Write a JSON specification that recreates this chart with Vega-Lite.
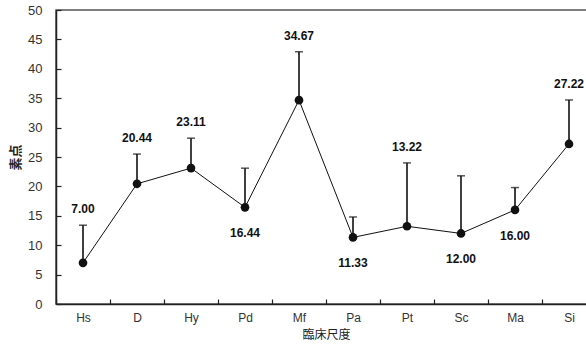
{
  "$schema": "https://vega.github.io/schema/vega-lite/v6.json",
  "autosize": {"type": "none"},
  "padding": {"left": 56, "top": 10, "right": 0, "bottom": 50},
  "width": 540,
  "height": 294,
  "config": {
    "font": "Liberation Sans",
    "view": {"stroke": "#555", "strokeWidth": 1.5},
    "axis": {"domainColor": "#222", "domainWidth": 1.5, "tickColor": "#222", "tickWidth": 1.2, "labelColor": "#333", "labelFontSize": 12, "labelFont": "Liberation Sans", "grid": false}
  },
  "data": {
    "values": [
      {"scale": "Hs", "mean": 7.00, "upper": 13.4, "pos": "above"},
      {"scale": "D", "mean": 20.44, "upper": 25.5, "pos": "above"},
      {"scale": "Hy", "mean": 23.11, "upper": 28.2, "pos": "above"},
      {"scale": "Pd", "mean": 16.44, "upper": 23.1, "pos": "below"},
      {"scale": "Mf", "mean": 34.67, "upper": 42.9, "pos": "above"},
      {"scale": "Pa", "mean": 11.33, "upper": 14.8, "pos": "below"},
      {"scale": "Pt", "mean": 13.22, "upper": 24.0, "pos": "above"},
      {"scale": "Sc", "mean": 12.00, "upper": 21.8, "pos": "below"},
      {"scale": "Ma", "mean": 16.00, "upper": 19.8, "pos": "below"},
      {"scale": "Si", "mean": 27.22, "upper": 34.7, "pos": "above"}
    ]
  },
  "encoding": {
    "x": {
      "field": "scale", "type": "nominal", "sort": null,
      "scale": {"paddingInner": 0, "paddingOuter": 0},
      "axis": {"title": "臨床尺度", "titleFont": "Noto Sans CJK JP", "titleFontSize": 12, "titleFontWeight": "normal", "titleColor": "#222", "titlePadding": 6, "labelAngle": 0, "tickBand": "extent", "tickSize": -5, "labelPadding": 13}
    },
    "y": {
      "field": "mean", "type": "quantitative",
      "scale": {"domain": [0, 50], "nice": false},
      "axis": {"title": "素点", "titleFont": "Noto Sans CJK JP", "titleFontSize": 13, "titleFontWeight": "bold", "titleColor": "#222", "titlePadding": 5, "values": [0,5,10,15,20,25,30,35,40,45,50], "labelOverlap": false, "labelFontSize": 13, "tickSize": -5, "labelPadding": 19}
    }
  },
  "layer": [
    {
      "mark": {"type": "line", "color": "#111", "strokeWidth": 1}
    },
    {
      "mark": {"type": "rule", "color": "#111", "strokeWidth": 1.6},
      "encoding": {"y2": {"field": "upper"}}
    },
    {
      "mark": {"type": "tick", "color": "#111", "size": 8, "thickness": 1.5},
      "encoding": {"y": {"field": "upper", "type": "quantitative", "scale": {"domain": [0, 50], "nice": false}, "axis": {"title": "素点", "titleFont": "Noto Sans CJK JP", "titleFontSize": 13, "titleFontWeight": "bold", "titleColor": "#222", "titlePadding": 5, "values": [0,5,10,15,20,25,30,35,40,45,50], "labelOverlap": false, "labelFontSize": 13, "tickSize": -5, "labelPadding": 19}}}
    },
    {
      "mark": {"type": "point", "filled": true, "shape": "circle", "size": 75, "color": "#111", "opacity": 1}
    },
    {
      "transform": [{"filter": "datum.pos === 'above'"}],
      "mark": {"type": "text", "dy": -16, "fontWeight": "bold", "fontSize": 12, "color": "#111"},
      "encoding": {"y": {"field": "upper", "type": "quantitative", "scale": {"domain": [0, 50], "nice": false}, "axis": {"title": "素点", "titleFont": "Noto Sans CJK JP", "titleFontSize": 13, "titleFontWeight": "bold", "titleColor": "#222", "titlePadding": 5, "values": [0,5,10,15,20,25,30,35,40,45,50], "labelOverlap": false, "labelFontSize": 13, "tickSize": -5, "labelPadding": 19}}, "text": {"field": "mean", "type": "quantitative", "format": ".2f"}}
    },
    {
      "transform": [{"filter": "datum.pos === 'below'"}],
      "mark": {"type": "text", "dy": 26, "fontWeight": "bold", "fontSize": 12, "color": "#111"},
      "encoding": {"text": {"field": "mean", "type": "quantitative", "format": ".2f"}}
    }
  ]
}
